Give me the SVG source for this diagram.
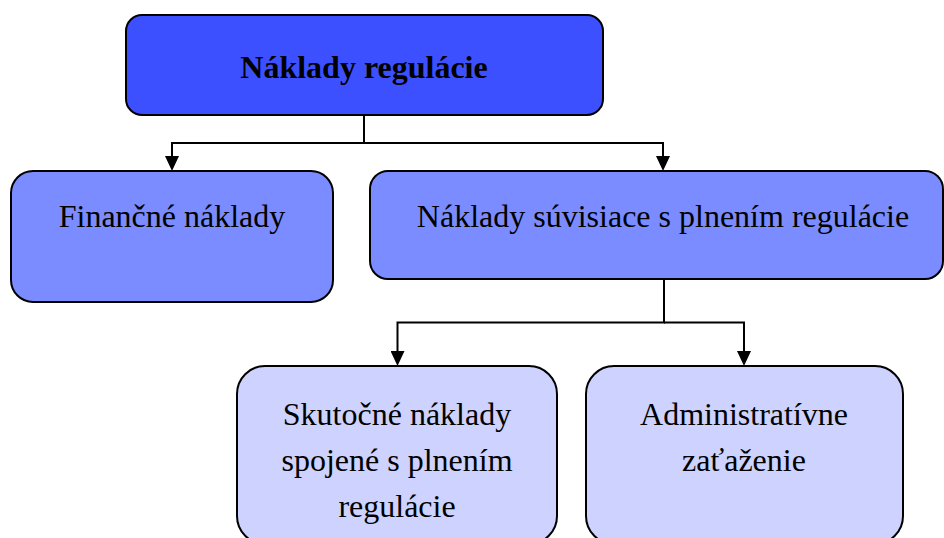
<svg xmlns="http://www.w3.org/2000/svg" width="944" height="538" viewBox="0 0 944 538">
  <style>
    .box { stroke: #000; stroke-width: 2; }
    .lvl0 { fill: #3d50ff; }
    .lvl1 { fill: #7a8cff; }
    .lvl2 { fill: #ced2fe; }
    .lbl { font-family: "Liberation Serif", "Times New Roman", serif; font-size: 32px; fill: #000; text-anchor: middle; }
    .bold { font-weight: bold; }
    .conn { fill: none; stroke: #000; stroke-width: 2; }
  </style>
  <defs>
    <marker id="arrow" markerUnits="userSpaceOnUse" markerWidth="15" markerHeight="14" viewBox="0 0 15 14" refX="0" refY="7" orient="auto">
      <path d="M0,0 L15,7 L0,14 z" fill="#000"/>
    </marker>
  </defs>
  <rect width="944" height="538" fill="#fff"/>

  <g id="connectors">
    <path class="conn" d="M364,115 V143 H172 V156" marker-end="url(#arrow)"/>
    <path class="conn" d="M364,143 H663 V156" marker-end="url(#arrow)"/>
    <path class="conn" d="M664,279 V322.5 H397.5 V351" marker-end="url(#arrow)"/>
    <path class="conn" d="M664,322.5 H744 V351" marker-end="url(#arrow)"/>
  </g>

  <g id="naklady-regulacie">
    <rect class="box lvl0" x="126" y="15" width="477" height="100" rx="16" ry="16"/>
    <text class="lbl bold" x="364" y="78">Náklady regulácie</text>
  </g>

  <g id="financne-naklady">
    <rect class="box lvl1" x="11" y="171" width="322" height="131" rx="22" ry="22"/>
    <text class="lbl" x="172" y="227">Finančné náklady</text>
  </g>

  <g id="naklady-plnenie">
    <rect class="box lvl1" x="370" y="171" width="573" height="108" rx="18" ry="18"/>
    <text class="lbl" x="663" y="227">Náklady súvisiace s plnením regulácie</text>
  </g>

  <!-- lower boxes run past the bottom edge of the canvas -->
  <g id="skutocne-naklady">
    <rect class="box lvl2" x="237" y="366" width="320" height="178" rx="28" ry="28"/>
    <text class="lbl" x="397" y="425">Skutočné náklady</text>
    <text class="lbl" x="397" y="471">spojené s plnením</text>
    <text class="lbl" x="397" y="517">regulácie</text>
  </g>

  <g id="administrativne-zatazenie">
    <rect class="box lvl2" x="586" y="366" width="317" height="178" rx="28" ry="28"/>
    <text class="lbl" x="744" y="425">Administratívne</text>
    <text class="lbl" x="744" y="471">zaťaženie</text>
  </g>
</svg>
